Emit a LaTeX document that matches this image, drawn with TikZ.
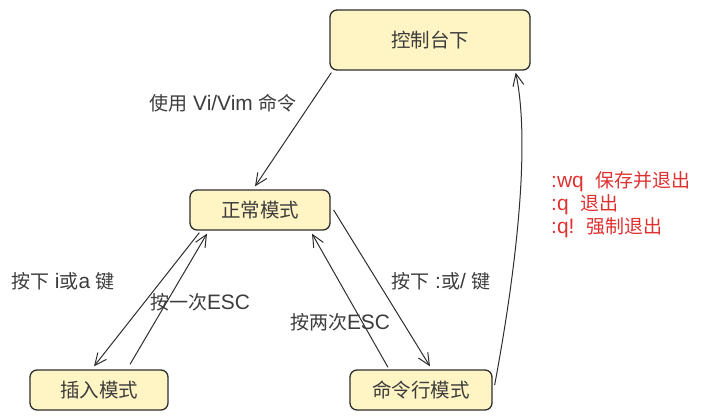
\documentclass[tikz,border=0pt]{standalone}
\usepackage{fontspec}
\setmainfont{Noto Sans CJK SC}
\newfontfamily\latinfont{Liberation Sans}[Scale=1.1]
\usetikzlibrary{arrows.meta}
\definecolor{boxfill}{HTML}{FFF4C4}
\definecolor{inkgray}{HTML}{2E2E2E}
\definecolor{textgray}{HTML}{3C3C3C}
\definecolor{notered}{HTML}{E03131}
\newcommand{\lat}[1]{{\latinfont #1}}
\begin{document}
\begin{tikzpicture}[
			x = 1pt, y = -1pt,
			modebox/.style = {draw = inkgray, line width = 1.3pt, fill = boxfill,
				rounded corners = 7pt, inner sep = 0pt,
				font = \fontsize{19.5}{23}\selectfont, text = textgray},
			steplabel/.style = {font = \fontsize{19}{22}\selectfont, text = textgray, inner sep = 1pt},
			flow/.style = {draw = inkgray, line width = 1pt,
				-{Straight Barb[length = 12pt, width = 11pt, line width = 1pt]}}
			]

			\useasboundingbox (0,0) rectangle (702,420);

			% states
			\node[modebox, minimum width = 200pt, minimum height = 60pt] (console) at (430,40) {控制台下};
			\node[modebox, minimum width = 140pt, minimum height = 40pt] (normal) at (260,210) {正常模式};
			\node[modebox, minimum width = 138pt, minimum height = 40pt] (insert) at (99,390) {插入模式};
			\node[modebox, minimum width = 142pt, minimum height = 40pt] (cmdline) at (421,390) {命令行模式};

			% transitions
			\draw[flow] ([xshift = 2pt, yshift = -2pt]console.south west) -- ([xshift = -5pt, yshift = 3pt]normal.north);
			\draw[flow] ([xshift = 10pt, yshift = -2pt]normal.south west) -- ([xshift = -5pt, yshift = 3pt]insert.north);
			\draw[flow] ([xshift = 31pt, yshift = 5pt]insert.north) -- ([xshift = -53pt, yshift = -3pt]normal.south);
			\draw[flow] ([xshift = 3pt]normal.east) -- ([xshift = 9pt, yshift = 3pt]cmdline.north);
			\draw[flow] ([xshift = -33pt, yshift = 2pt]cmdline.north) -- ([xshift = 52pt, yshift = -3pt]normal.south);
			\draw[flow] ([xshift = 2pt, yshift = 5pt]cmdline.east)
				.. controls (518,260) and (530,140) .. ([xshift = -15pt, yshift = -2pt]console.south east);

			% labels
			\node[steplabel] (lblstart) at (223,103) {使用\lat{ Vi/Vim }命令};
			\node[steplabel] (lblinsert) at (63,281) {按下\lat{ i}或\lat{a }键};
			\node[steplabel] (lblesc) at (200,302) {按一次\lat{ESC}};
			\node[steplabel] (lblesctwo) at (340,322) {按两次\lat{ESC}};
			\node[steplabel] (lblcolon) at (441,281) {按下\lat{ :}或\lat{/ }键};

			\node[steplabel, text = notered, anchor = west] (quitwq) at (550,182) {\lat{:wq\ \ }保存并退出};
			\node[steplabel, text = notered, anchor = west] (quitq) at (550,205) {\lat{:q\ \ }退出};
			\node[steplabel, text = notered, anchor = west] (quitforce) at (550,228) {\lat{:q!\ \ }强制退出};

		\end{tikzpicture}
\end{document}
